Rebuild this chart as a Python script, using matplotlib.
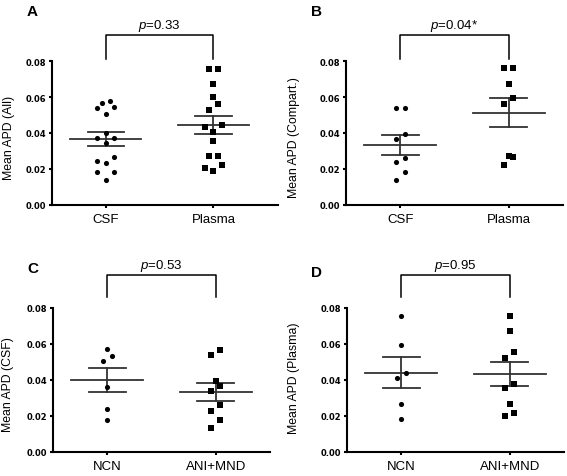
import numpy as np
import matplotlib.pyplot as plt

# mean APD values
csf_all = [0.0580, 0.0565, 0.0544, 0.0537, 0.0507, 0.0398, 0.0370, 0.0370,
           0.0343, 0.0267, 0.0244, 0.0231, 0.0185, 0.0185, 0.0141]
plasma_all = [0.0757, 0.0757, 0.0672, 0.0598, 0.0559, 0.0530, 0.0443, 0.0431,
              0.0406, 0.0356, 0.0272, 0.0272, 0.0222, 0.0187, 0.0204]
csf_comp = [0.0541, 0.0537, 0.0396, 0.0365, 0.0263, 0.0241, 0.0181, 0.0139]
plasma_comp = [0.0759, 0.0759, 0.0670, 0.0596, 0.0559, 0.0270, 0.0265, 0.0222]
csf_ncn = [0.0575, 0.0536, 0.0504, 0.0363, 0.0240, 0.0179]
csf_animnd = [0.0564, 0.0540, 0.0396, 0.0368, 0.0339, 0.0260, 0.0227, 0.0179, 0.0136]
plasma_ncn = [0.0753, 0.0595, 0.0441, 0.0409, 0.0266, 0.0182]
plasma_animnd = [0.0755, 0.0670, 0.0558, 0.0525, 0.0378, 0.0353, 0.0266, 0.0216, 0.0201]

letters = ['A', 'B', 'C', 'D']
ylabels = ['Mean APD (All)', 'Mean APD (Compart.)', 'Mean APD (CSF)', 'Mean APD (Plasma)']
groups = [['CSF', 'Plasma'], ['CSF', 'Plasma'], ['NCN', 'ANI+MND'], ['NCN', 'ANI+MND']]
pvals = ['=0.33', '=0.04*', '=0.53', '=0.95']
series = [(csf_all, plasma_all), (csf_comp, plasma_comp),
          (csf_ncn, csf_animnd), (plasma_ncn, plasma_animnd)]

plt.rcParams['font.family'] = ['Liberation Sans', 'DejaVu Sans']
plt.rcParams['mathtext.fontset'] = 'custom'
plt.rcParams['mathtext.it'] = 'Liberation Sans:italic'
plt.rcParams['mathtext.rm'] = 'Liberation Sans'


def swarm_offsets(vals, h=0.0047, slot=0.079):
    # GraphPad-like column scatter: bin close values into rows, spread them
    vals = np.asarray(vals)
    order = np.argsort(vals, kind='stable')
    offs = np.zeros(len(vals))
    i = 0
    while i < len(order):
        start = vals[order[i]]
        j = i
        while j < len(order) and vals[order[j]] - start <= h:
            j += 1
        grp = order[i:j]
        n = len(grp)
        if n % 2:
            seq = [0] + [s * k for k in range(1, n // 2 + 1) for s in (-1, 1)]
        else:
            seq = [s * (k - 0.5) for k in range(1, n // 2 + 1) for s in (-1, 1)]
        for idx, o in zip(grp, seq):
            offs[idx] = o * slot
        i = j
    return offs


fig = plt.figure(figsize=(5.67, 4.77), dpi=100)
W, H = 567, 477
# (left px, top px, width px, xmax, ylabel x px, ylabel y px, bracket top, leg bottom, ptext y)
boxes = [(52, 62, 226, 1.6, 9.5, 138, 0.0944, 0.0811, 0.1000),
         (346, 62, 217, 1.5, 294.5, 138, 0.0944, 0.0811, 0.1000),
         (53, 309, 217, 1.5, 8.5, 385, 0.0983, 0.0861, 0.1039),
         (347, 309, 217, 1.5, 294, 378, 0.0983, 0.0861, 0.1039)]
letter_pos = [(32, 12), (316, 12), (33, 269), (316, 273)]

for k in range(4):
    left, top, wpx, xmax, lx, ly, btop, bbot, pty = boxes[k]
    ax = fig.add_axes([left / W, (H - top - 144) / H, wpx / W, 144 / H])
    for gi, (vals, mk, ms) in enumerate(zip(series[k], ['o', 's'], [3.7, 4.0])):
        vals = np.asarray(vals)
        xs = gi + swarm_offsets(vals)
        m = vals.mean()
        sem = vals.std(ddof=1) / np.sqrt(len(vals))
        ax.plot([gi - 0.33, gi + 0.33], [m, m], color='#333333', lw=1.3, zorder=2)
        ax.plot([gi - 0.17, gi + 0.17], [m + sem, m + sem], color='#333333', lw=1.3, zorder=2)
        ax.plot([gi - 0.17, gi + 0.17], [m - sem, m - sem], color='#333333', lw=1.3, zorder=2)
        ax.plot([gi, gi], [m - sem, m + sem], color='#333333', lw=1.3, zorder=2)
        ax.plot(xs, vals, linestyle='none', marker=mk, ms=ms, color='black',
                markeredgewidth=0, zorder=3)
    ax.set_xlim(-0.5, xmax)
    ax.set_ylim(0, 0.08)
    ax.set_yticks([0, 0.02, 0.04, 0.06, 0.08])
    ax.set_yticklabels(['%.2f' % t for t in [0, 0.02, 0.04, 0.06, 0.08]],
                       fontfamily='DejaVu Sans', fontweight='bold', fontsize=6)
    ax.set_xticks([0, 1])
    ax.set_xticklabels(groups[k], fontsize=9.5)
    for s in ['top', 'right']:
        ax.spines[s].set_visible(False)
    for s in ['left', 'bottom']:
        ax.spines[s].set_linewidth(1.5)
    ax.tick_params(axis='y', length=2.5, width=1.5, pad=1.5)
    ax.tick_params(axis='x', length=2.5, width=1.5, pad=3.5)
    ax.set_ylabel(ylabels[k], fontsize=8.8)
    ax.yaxis.label.set_va('center')
    ax.yaxis.set_label_coords((lx - left) / wpx, (top + 144 - ly) / 144)
    # significance bracket
    ax.plot([0, 0, 1, 1], [bbot, btop, btop, bbot], color='black', lw=1.1, clip_on=False)
    ax.text(0.5, pty, '$p$' + pvals[k], ha='center', va='center', fontsize=9.5)
    fig.text(letter_pos[k][0] / W, 1 - letter_pos[k][1] / H, letters[k],
             ha='center', va='center', fontsize=11, fontweight='bold')

fig.savefig('out.png', dpi=100)
